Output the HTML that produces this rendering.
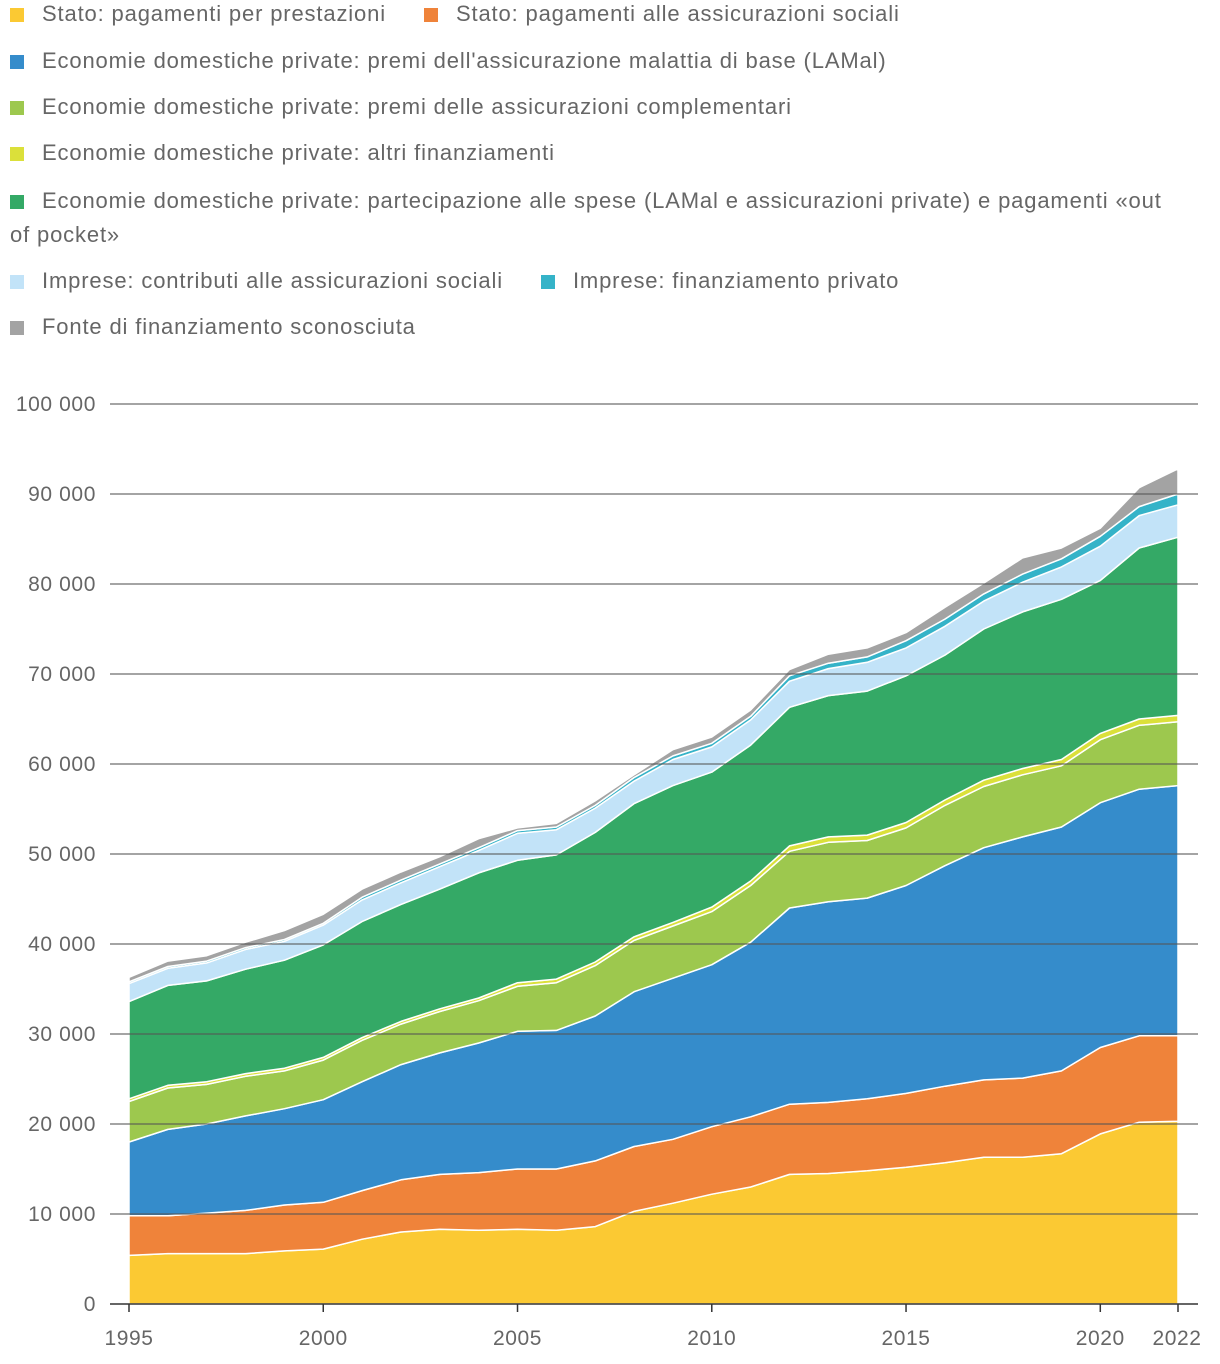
<!DOCTYPE html>
<html><head><meta charset="utf-8"><style>
body{margin:0;background:#fff;width:1220px;height:1364px;overflow:hidden;font-family:"Liberation Sans",Arial,sans-serif;}
.leg{position:absolute;left:10px;font-size:22px;letter-spacing:0.85px;color:#666;line-height:34px;}
.sw{display:inline-block;width:14px;height:14px;margin-right:18px;vertical-align:-1px;}
.it{display:inline-block;margin-right:26px;}
</style></head><body>
<div style="position:absolute;left:0;top:0;width:1220px;">
<div class="leg" style="top:-3px"><span class="it"><span class="sw" style="background:#fbc933"></span>Stato: pagamenti per prestazioni</span><span class="it" style="margin-left:12px"><span class="sw" style="background:#ef833a"></span>Stato: pagamenti alle assicurazioni sociali</span></div>
<div class="leg" style="top:44px"><span class="sw" style="background:#358ccb"></span>Economie domestiche private: premi dell'assicurazione malattia di base (LAMal)</div>
<div class="leg" style="top:90px"><span class="sw" style="background:#9dc84e"></span>Economie domestiche private: premi delle assicurazioni complementari</div>
<div class="leg" style="top:136px"><span class="sw" style="background:#dbe03a"></span>Economie domestiche private: altri finanziamenti</div>
<div class="leg" style="top:184px;width:1170px"><span class="sw" style="background:#34a966"></span>Economie domestiche private: partecipazione alle spese (LAMal e assicurazioni private) e pagamenti «out of pocket»</div>
<div class="leg" style="top:264px"><span class="it"><span class="sw" style="background:#c2e3f8"></span>Imprese: contributi alle assicurazioni sociali</span><span class="it" style="margin-left:12px"><span class="sw" style="background:#35b3c8"></span>Imprese: finanziamento privato</span></div>
<div class="leg" style="top:310px"><span class="sw" style="background:#a3a3a3"></span>Fonte di finanziamento sconosciuta</div>
</div>
<svg id="chart" width="1220" height="1364" style="position:absolute;left:0;top:0"></svg>
<script>
const years=[1995,1996,1997,1998,1999,2000,2001,2002,2003,2004,2005,2006,2007,2008,2009,2010,2011,2012,2013,2014,2015,2016,2017,2018,2019,2020,2021,2022];
const statoPrestazioni=[5.4,5.6,5.6,5.6,5.9,6.1,7.2,8.0,8.3,8.2,8.3,8.2,8.6,10.3,11.2,12.2,13.0,14.4,14.5,14.8,15.2,15.7,16.3,16.3,16.7,18.9,20.2,20.3];
const statoAssicurazioni=[4.4,4.2,4.5,4.8,5.1,5.2,5.4,5.8,6.1,6.4,6.7,6.8,7.3,7.2,7.1,7.5,7.8,7.8,7.9,8.0,8.2,8.5,8.6,8.8,9.2,9.6,9.6,9.5];
const premiLAMal=[8.2,9.6,9.9,10.5,10.7,11.4,12.1,12.8,13.5,14.4,15.3,15.4,16.1,17.2,17.9,18.0,19.4,21.8,22.3,22.3,23.1,24.5,25.8,26.8,27.1,27.2,27.4,27.8];
const premiComplementari=[4.5,4.6,4.4,4.4,4.2,4.4,4.6,4.5,4.6,4.7,5.0,5.3,5.6,5.7,5.8,5.9,6.3,6.3,6.6,6.4,6.4,6.7,6.8,6.9,6.8,7.0,7.1,7.1];
const altriFinanziamenti=[0.3,0.3,0.3,0.3,0.3,0.3,0.3,0.3,0.3,0.3,0.4,0.4,0.4,0.4,0.4,0.5,0.5,0.6,0.6,0.6,0.6,0.6,0.7,0.7,0.7,0.7,0.7,0.7];
const partecipazioneSpese=[10.8,11.1,11.2,11.6,12.0,12.5,12.9,13.0,13.3,13.9,13.6,13.8,14.4,14.8,15.2,15.0,15.1,15.4,15.7,16.0,16.3,16.1,16.8,17.4,17.8,17.0,19.0,19.8];
const impreseContributi=[2.0,1.9,2.0,2.2,2.1,2.2,2.4,2.4,2.5,2.5,3.0,2.8,2.7,2.5,2.9,2.8,2.8,2.9,3.0,3.2,3.1,3.2,3.1,3.3,3.6,3.8,3.6,3.6];
const impresePrivato=[0.2,0.2,0.2,0.2,0.2,0.2,0.3,0.3,0.3,0.3,0.3,0.3,0.3,0.4,0.4,0.4,0.4,0.6,0.6,0.6,0.8,0.8,0.8,0.9,0.9,1.1,1.0,1.2];
const sconosciuta=[0.5,0.6,0.6,0.6,1.0,1.0,0.9,0.9,0.8,1.0,0.3,0.4,0.5,0.3,0.7,0.7,0.7,0.7,1.0,1.0,0.9,1.3,1.2,1.8,1.2,0.9,2.1,2.8];
const yTicks=[0,10000,20000,30000,40000,50000,60000,70000,80000,90000,100000];
const yTickLabels=["0","10 000","20 000","30 000","40 000","50 000","60 000","70 000","80 000","90 000","100 000"];
const xTicks=[1995,2000,2005,2010,2015,2020,2022];
const series=[statoPrestazioni,statoAssicurazioni,premiLAMal,premiComplementari,altriFinanziamenti,partecipazioneSpese,impreseContributi,impresePrivato,sconosciuta];
const colors=["#fbc933","#ef833a","#358ccb","#9dc84e","#dbe03a","#34a966","#c2e3f8","#35b3c8","#a3a3a3"];
const names=["area-stato-prestazioni","area-stato-assicurazioni","area-premi-lamal","area-premi-complementari","area-altri-finanziamenti","area-partecipazione-spese","area-imprese-contributi","area-imprese-privato","area-sconosciuta"];
const NS="http://www.w3.org/2000/svg";
const svg=document.getElementById('chart');
const x=y=>129+(y-1995)*(1178-129)/27;
const yv=v=>1304-v*9/1000;
function mk(t,a){const e=document.createElementNS(NS,t);for(const k in a)e.setAttribute(k,a[k]);svg.appendChild(e);return e;}
let base=years.map(()=>0);
series.forEach((s,i)=>{
  const top=base.map((b,j)=>b+s[j]*1000);
  let d="M"+years.map((yr,j)=>x(yr)+","+yv(top[j])).join("L");
  for(let j=years.length-1;j>=0;j--)d+="L"+x(years[j])+","+yv(base[j]);
  const p=mk('path',{d:d+"Z",fill:colors[i],stroke:"#fff","stroke-width":1.5,"stroke-linejoin":"round"});
  
  
  base=top;
});
yTicks.forEach((t,i)=>{
  if(t>0){const l=mk('line',{x1:110,x2:1198,y1:yv(t),y2:yv(t),stroke:"#555","stroke-width":1.2,opacity:0.85});
  
  }
  const tx=mk('text',{x:96,y:yv(t)+7,"text-anchor":"end","font-size":21,"letter-spacing":"0.6",fill:"#666","font-family":"Liberation Sans, sans-serif"});
  tx.textContent=yTickLabels[i];
  
  
});
const ax=mk('line',{x1:110,x2:1198,y1:1304,y2:1304,stroke:"#333","stroke-width":1.5});


xTicks.forEach(t=>{
  const tk=mk('line',{x1:x(t),x2:x(t),y1:1304,y2:1312,stroke:"#333","stroke-width":1.5});
  
  
  const tx=mk('text',{x:x(t)+(t===2022?-1:0),y:1345,"text-anchor":"middle","font-size":21,"letter-spacing":"0.6",fill:"#666","font-family":"Liberation Sans, sans-serif"});
  tx.textContent=t;
  
  
});
</script>
</body></html>
